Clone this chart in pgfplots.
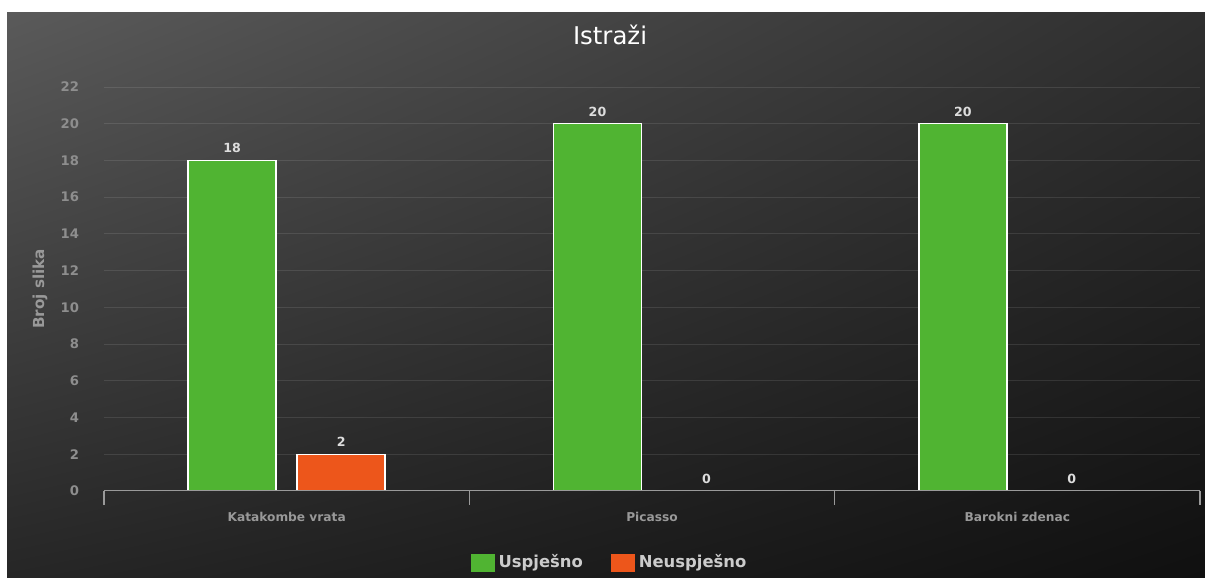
\documentclass[border=0pt]{standalone}
\usepackage{pgfplots}
\pgfplotsset{compat=1.18}
\usetikzlibrary{shadings}
\usepackage{fontspec}
\setmainfont{DejaVu Sans}
\definecolor{gGreen}{HTML}{50B432}
\definecolor{gOrange}{HTML}{ED561B}
\definecolor{tickgray}{HTML}{8E8E8E}
\definecolor{labgray}{HTML}{999999}
\definecolor{leggray}{HTML}{CCCCCC}
\definecolor{datgray}{HTML}{DDDDDD}
\definecolor{axgray}{HTML}{9A9A9A}
\definecolor{bgTL}{HTML}{5A5A5A}
\definecolor{bgTR}{HTML}{2F2F2F}
\definecolor{bgBL}{HTML}{262626}
\definecolor{bgBR}{HTML}{101010}
\begin{document}
\begin{tikzpicture}
\useasboundingbox (0,0) rectangle (602.5pt,289pt);
\fill[white] (0,0) rectangle (602.5pt,289pt);
\shade[upper left=bgTL, upper right=bgTR, lower left=bgBL, lower right=bgBR] (3.5pt,0) rectangle (602.5pt,282.5pt);
\begin{axis}[
  at={(52pt,43.5pt)}, anchor=south west,
  scale only axis, width=548pt, height=202pt,
  xmin=-0.5, xmax=2.5, ymin=0, ymax=22,
  ybar=10.5pt, bar width=44pt,
  xtick={0,1,2}, xticklabels={Katakombe vrata, Picasso, Barokni zdenac},
  minor xtick={-0.5,0.5,1.5,2.5},
  ytick={0,2,...,22},
  major tick length=0pt, minor tick length=7pt,
  tick align=outside, xtick pos=bottom, ytick pos=left,
  minor x tick style={axgray, line width=0.75pt},
  axis line style={draw=none},
  ymajorgrids, grid style={white, opacity=0.1, line width=0.5pt},
  /pgf/number format/assume math mode=true,
  yticklabel style={font=\bfseries\fontsize{6.6}{8}\selectfont, color=tickgray, xshift=-9pt},
  xticklabel style={font=\bfseries\fontsize{6.1}{7}\selectfont, color=labgray, yshift=-7pt},
  ylabel={Broj slika},
  ylabel style={at={(axis description cs:-0.0584,0.5)}, anchor=center, font=\bfseries\fontsize{7.6}{9}\selectfont, color=labgray},
  title={Istraži},
  title style={at={(axis description cs:0.4617,1.099)}, anchor=center, font=\fontsize{12.2}{14}\selectfont, color=white},
  nodes near coords,
  every node near coord/.append style={font=\bfseries\fontsize{6.3}{7}\selectfont, color=datgray, yshift=0pt},
  legend style={at={(0.4621,-0.178)}, anchor=center, draw=none, fill=none, legend columns=2,
    font=\bfseries\fontsize{8.2}{10}\selectfont, text=leggray,
    /tikz/every even column/.append style={column sep=12pt}},
  legend image code/.code={\fill[#1, draw=none] (0pt,-4.5pt) rectangle (12pt,4.5pt);},
]
\addplot[fill=gGreen, draw=white, line width=0.75pt] coordinates {(0,18) (1,20) (2,20)};
\addlegendentry{Uspješno}
\addplot[fill=gOrange, draw=white, line width=0.75pt] coordinates {(0,2) (1,0) (2,0)};
\addlegendentry{Neuspješno}
\draw[axgray, line width=0.9pt] (axis cs:-0.5,0) -- (axis cs:2.5,0);
\end{axis}
\end{tikzpicture}
\end{document}
